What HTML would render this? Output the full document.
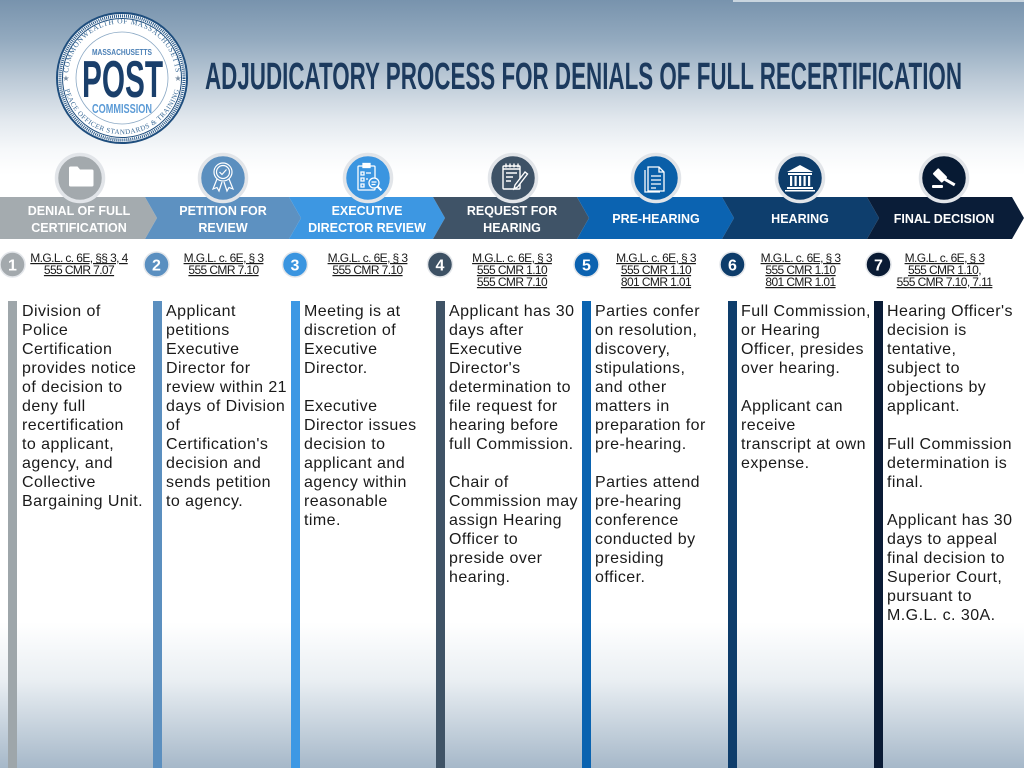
<!DOCTYPE html>
<html><head><meta charset="utf-8">
<style>
html,body{margin:0;padding:0;width:1024px;height:768px;overflow:hidden;background:#fff}
svg{display:block}
.t{font-family:"Liberation Sans",Arial,sans-serif}
.body{font-size:16px;fill:#1a1a1a;letter-spacing:0.45px}
.lbl{font-size:12.5px;font-weight:bold;fill:#fff;text-anchor:middle}
.cit{font-size:12px;fill:#1a1a1a;text-anchor:middle;letter-spacing:-0.6px;text-decoration:underline}
.num{font-size:16px;font-weight:bold;fill:#fff;text-anchor:middle}
</style></head>
<body>
<svg width="1024" height="768" viewBox="0 0 1024 768" xmlns="http://www.w3.org/2000/svg" class="t">
<defs>
<linearGradient id="bg" x1="0" y1="0" x2="0" y2="768" gradientUnits="userSpaceOnUse">
<stop offset="0" stop-color="#7893ad"/>
<stop offset="0.052" stop-color="#93aabf"/>
<stop offset="0.104" stop-color="#bccad7"/>
<stop offset="0.156" stop-color="#e2e8ee"/>
<stop offset="0.195" stop-color="#f6f8fa"/>
<stop offset="0.228" stop-color="#ffffff"/>
<stop offset="0.81" stop-color="#ffffff"/>
<stop offset="0.885" stop-color="#eaeff3"/>
<stop offset="1" stop-color="#a6b8c9"/>
</linearGradient>
<path id="arcTop" d="M 70,92 A 54 54 0 1 1 174,92"/>
<path id="arcBot" d="M 64,86 A 59 59 0 0 0 180,86"/>
</defs>
<rect width="1024" height="768" fill="url(#bg)"/>
<rect x="733" y="0" width="291" height="2" fill="#c9d5df"/>

<!-- Logo -->
<circle cx="122" cy="78" r="65" fill="#fff" stroke="#1f4e7e" stroke-width="2"/>
<circle cx="122" cy="78" r="62" fill="none" stroke="#2a5a8a" stroke-width="3" stroke-dasharray="1 1"/>
<circle cx="122" cy="78" r="59.5" fill="none" stroke="#1f4e7e" stroke-width="1"/>
<circle cx="122" cy="78" r="46" fill="none" stroke="#8aa8c4" stroke-width="0.8"/>
<text font-family="Liberation Serif,serif" font-size="7.5" fill="#3a6a97" letter-spacing="0.6"><textPath href="#arcTop" startOffset="50%" text-anchor="middle">COMMONWEALTH OF MASSACHUSETTS</textPath></text>
<text font-family="Liberation Serif,serif" font-size="7" fill="#3a6a97" letter-spacing="0.5"><textPath href="#arcBot" startOffset="50%" text-anchor="middle">PEACE OFFICER STANDARDS &amp; TRAINING</textPath></text>
<text x="66" y="81" font-size="8" fill="#7a8ea3" text-anchor="middle">★</text>
<text x="178" y="81" font-size="8" fill="#7a8ea3" text-anchor="middle">★</text>
<text x="92" y="55" font-size="8" font-weight="bold" fill="#4a7fb5" textLength="60" lengthAdjust="spacingAndGlyphs">MASSACHUSETTS</text>
<text x="82" y="97" font-size="52" font-weight="bold" fill="#1a3f6b" textLength="81" lengthAdjust="spacingAndGlyphs">POST</text>
<text x="92" y="113" font-size="12.5" font-weight="bold" fill="#5c9bd6" textLength="60" lengthAdjust="spacingAndGlyphs">COMMISSION</text>

<!-- Title -->
<text x="205" y="89" font-size="38" font-weight="bold" fill="#1c3a5e" textLength="757" lengthAdjust="spacingAndGlyphs">ADJUDICATORY PROCESS FOR DENIALS OF FULL RECERTIFICATION</text>

<!-- Chevron band -->
<polygon points="0,197 145,197 157,218 145,239 0,239" fill="#a4abaf"/>
<polygon points="145,197 289,197 301,218 289,239 145,239 157,218" fill="#5d91c1"/>
<polygon points="289,197 433,197 445,218 433,239 289,239 301,218" fill="#3d97e2"/>
<polygon points="433,197 577,197 589,218 577,239 433,239 445,218" fill="#3f5367"/>
<polygon points="577,197 722,197 734,218 722,239 577,239 589,218" fill="#0b63b1"/>
<polygon points="722,197 867,197 879,218 867,239 722,239 734,218" fill="#0e3e6d"/>
<polygon points="867,197 1012,197 1024,218 1012,239 867,239 879,218" fill="#0a1d38"/>

<text class="lbl" x="79" y="215">DENIAL OF FULL</text>
<text class="lbl" x="79" y="232">CERTIFICATION</text>
<text class="lbl" x="223" y="215">PETITION FOR</text>
<text class="lbl" x="223" y="232">REVIEW</text>
<text class="lbl" x="367" y="215">EXECUTIVE</text>
<text class="lbl" x="367" y="232">DIRECTOR REVIEW</text>
<text class="lbl" x="512" y="215">REQUEST FOR</text>
<text class="lbl" x="512" y="232">HEARING</text>
<text class="lbl" x="656" y="223">PRE-HEARING</text>
<text class="lbl" x="800" y="223">HEARING</text>
<text class="lbl" x="944" y="223">FINAL DECISION</text>

<!-- Icon circles -->
<g stroke="#e2e5e9" stroke-width="3.5">
<circle cx="80" cy="178" r="23.5" fill="#a3a9ad"/>
<circle cx="223" cy="178" r="23.5" fill="#5b8fbf"/>
<circle cx="368" cy="178" r="23.5" fill="#3b95e0"/>
<circle cx="513" cy="178" r="23.5" fill="#3e5266"/>
<circle cx="656" cy="178" r="23.5" fill="#0a5fa8"/>
<circle cx="800" cy="178" r="23.5" fill="#0d3c6a"/>
<circle cx="944" cy="178" r="23.5" fill="#071a33"/>
</g>
<!-- folder -->
<path d="M69,168 q0,-1.5 1.5,-1.5 h7 l2.5,3 h12 q1.5,0 1.5,1.5 v14 q0,1.5 -1.5,1.5 h-21.5 q-1.5,0 -1.5,-1.5 z" fill="#fff"/>
<!-- award -->
<g fill="none" stroke="#fff" stroke-width="1.2">
<circle cx="223" cy="172" r="9"/>
<circle cx="223" cy="172" r="6.5"/>
<path d="M219.5,172 l2.5,2.5 l4.5,-5"/>
<path d="M217,179 l-4,10 l4,-1.5 l2,3.5 l3,-9"/>
<path d="M229,179 l4,10 l-4,-1.5 l-2,3.5 l-3,-9"/>
</g>
<!-- clipboard -->
<g fill="none" stroke="#fff" stroke-width="1.3">
<rect x="358" y="166" width="17" height="24" rx="1"/>
<rect x="363" y="163.5" width="7" height="4" fill="#fff"/>
<path d="M361,172 h3 v3 h-3z M361,178 h3 v3 h-3z M361,184 h3 v3 h-3z M366,173 h5 M366,179 h2"/>
<circle cx="374" cy="183" r="5" fill="#3b95e0"/>
<path d="M377.5,186.5 l4,4" stroke-width="2"/>
<path d="M371.5,182 h5 M371.5,184.5 h4"/>
</g>
<!-- notepad + pencil -->
<g fill="none" stroke="#fff" stroke-width="1.4">
<rect x="503" y="166" width="17" height="23" rx="1"/>
<path d="M506,163.5 v4 M510,163.5 v4 M514,163.5 v4 M518,163.5 v4 M503,169 h17"/>
<path d="M506,173 h11 M506,177 h7 M506,181 h5"/>
<path d="M525,172 l-10,13 l-1,4 l3.5,-2 l10,-13 z" fill="#3e5266"/>
</g>
<!-- document -->
<g fill="none" stroke="#fff" stroke-width="1.3">
<path d="M648,167 h11 l5,5 v19 h-16 z" fill="#0a5fa8"/>
<path d="M645,170 v22 h15" />
<path d="M659,167 v5 h5"/>
<path d="M651,176 h10 M651,180 h10 M651,184 h10 M651,188 h5"/>
</g>
<!-- building -->
<g fill="#fff">
<polygon points="800,165 813,172 787,172"/>
<rect x="788" y="173" width="24" height="2"/>
<rect x="790" y="176" width="2.2" height="10"/>
<rect x="794.5" y="176" width="2.2" height="10"/>
<rect x="799" y="176" width="2.2" height="10"/>
<rect x="803.5" y="176" width="2.2" height="10"/>
<rect x="808" y="176" width="2.2" height="10"/>
<rect x="787" y="187" width="26" height="2"/>
<rect x="785" y="190" width="30" height="1.5"/>
</g>
<!-- gavel -->
<g fill="#fff">
<rect x="936" y="169" width="8" height="13" rx="1" transform="rotate(-45 940 175.5)"/>
<rect x="942" y="176" width="15" height="3" transform="rotate(30 942 177)"/>
<rect x="932" y="185" width="11" height="3" rx="1"/>
</g>

<!-- Number circles -->
<g stroke="#e3e6ea" stroke-width="1.5">
<circle cx="12.5" cy="264.5" r="12.5" fill="#a3a9ad"/>
<circle cx="156.5" cy="264.5" r="12.5" fill="#5a8fc0"/>
<circle cx="295" cy="264.5" r="12.5" fill="#3a95e0"/>
<circle cx="440" cy="264.5" r="12.5" fill="#3d5164"/>
<circle cx="586.5" cy="264.5" r="12.5" fill="#0b62b0"/>
<circle cx="732.5" cy="264.5" r="12.5" fill="#0d3c6a"/>
<circle cx="878.5" cy="264.5" r="12.5" fill="#0a1b34"/>
</g>
<text class="num" x="12.5" y="270.5">1</text>
<text class="num" x="156.5" y="270.5">2</text>
<text class="num" x="295" y="270.5">3</text>
<text class="num" x="440" y="270.5">4</text>
<text class="num" x="586.5" y="270.5">5</text>
<text class="num" x="732.5" y="270.5">6</text>
<text class="num" x="878.5" y="270.5">7</text>

<!-- Citations -->
<text class="cit" x="79" y="262">M.G.L. c. 6E, §§ 3, 4</text>
<text class="cit" x="79" y="274">555 CMR 7.07</text>
<text class="cit" x="223.5" y="262">M.G.L. c. 6E, § 3</text>
<text class="cit" x="223.5" y="274">555 CMR 7.10</text>
<text class="cit" x="367.5" y="262">M.G.L. c. 6E, § 3</text>
<text class="cit" x="367.5" y="274">555 CMR 7.10</text>
<text class="cit" x="512" y="262">M.G.L. c. 6E, § 3</text>
<text class="cit" x="512" y="274">555 CMR 1.10</text>
<text class="cit" x="512" y="286">555 CMR 7.10</text>
<text class="cit" x="656" y="262">M.G.L. c. 6E, § 3</text>
<text class="cit" x="656" y="274">555 CMR 1.10</text>
<text class="cit" x="656" y="286">801 CMR 1.01</text>
<text class="cit" x="800.5" y="262">M.G.L. c. 6E, § 3</text>
<text class="cit" x="800.5" y="274">555 CMR 1.10</text>
<text class="cit" x="800.5" y="286">801 CMR 1.01</text>
<text class="cit" x="944.5" y="262">M.G.L. c. 6E, § 3</text>
<text class="cit" x="944.5" y="274">555 CMR 1.10,</text>
<text class="cit" x="944.5" y="286">555 CMR 7.10, 7.11</text>

<!-- Vertical bars -->
<rect x="8" y="301" width="9" height="467" fill="#9ea6aa"/>
<rect x="153" y="301" width="9" height="467" fill="#5b8fbf"/>
<rect x="291" y="301" width="9" height="467" fill="#3d98e4"/>
<rect x="436" y="301" width="9" height="467" fill="#3f5366"/>
<rect x="582" y="301" width="9" height="467" fill="#0a63b0"/>
<rect x="728" y="301" width="9" height="467" fill="#0e3d6b"/>
<rect x="874" y="301" width="9" height="467" fill="#0a1b35"/>

<!-- Body text -->
<text class="body">
<tspan x="22" y="316">Division of</tspan>
<tspan x="22" y="335">Police</tspan>
<tspan x="22" y="354">Certification</tspan>
<tspan x="22" y="373">provides notice</tspan>
<tspan x="22" y="392">of decision to</tspan>
<tspan x="22" y="411">deny full</tspan>
<tspan x="22" y="430">recertification</tspan>
<tspan x="22" y="449">to applicant,</tspan>
<tspan x="22" y="468">agency, and</tspan>
<tspan x="22" y="487">Collective</tspan>
<tspan x="22" y="506">Bargaining Unit.</tspan>
</text>
<text class="body">
<tspan x="166" y="316">Applicant</tspan>
<tspan x="166" y="335">petitions</tspan>
<tspan x="166" y="354">Executive</tspan>
<tspan x="166" y="373">Director for</tspan>
<tspan x="166" y="392">review within 21</tspan>
<tspan x="166" y="411">days of Division</tspan>
<tspan x="166" y="430">of</tspan>
<tspan x="166" y="449">Certification's</tspan>
<tspan x="166" y="468">decision and</tspan>
<tspan x="166" y="487">sends petition</tspan>
<tspan x="166" y="506">to agency.</tspan>
</text>
<text class="body">
<tspan x="304" y="316">Meeting is at</tspan>
<tspan x="304" y="335">discretion of</tspan>
<tspan x="304" y="354">Executive</tspan>
<tspan x="304" y="373">Director.</tspan>
<tspan x="304" y="411">Executive</tspan>
<tspan x="304" y="430">Director issues</tspan>
<tspan x="304" y="449">decision to</tspan>
<tspan x="304" y="468">applicant and</tspan>
<tspan x="304" y="487">agency within</tspan>
<tspan x="304" y="506">reasonable</tspan>
<tspan x="304" y="525">time.</tspan>
</text>
<text class="body">
<tspan x="449" y="316">Applicant has 30</tspan>
<tspan x="449" y="335">days after</tspan>
<tspan x="449" y="354">Executive</tspan>
<tspan x="449" y="373">Director's</tspan>
<tspan x="449" y="392">determination to</tspan>
<tspan x="449" y="411">file request for</tspan>
<tspan x="449" y="430">hearing before</tspan>
<tspan x="449" y="449">full Commission.</tspan>
<tspan x="449" y="487">Chair of</tspan>
<tspan x="449" y="506">Commission may</tspan>
<tspan x="449" y="525">assign Hearing</tspan>
<tspan x="449" y="544">Officer to</tspan>
<tspan x="449" y="563">preside over</tspan>
<tspan x="449" y="582">hearing.</tspan>
</text>
<text class="body">
<tspan x="595" y="316">Parties confer</tspan>
<tspan x="595" y="335">on resolution,</tspan>
<tspan x="595" y="354">discovery,</tspan>
<tspan x="595" y="373">stipulations,</tspan>
<tspan x="595" y="392">and other</tspan>
<tspan x="595" y="411">matters in</tspan>
<tspan x="595" y="430">preparation for</tspan>
<tspan x="595" y="449">pre-hearing.</tspan>
<tspan x="595" y="487">Parties attend</tspan>
<tspan x="595" y="506">pre-hearing</tspan>
<tspan x="595" y="525">conference</tspan>
<tspan x="595" y="544">conducted by</tspan>
<tspan x="595" y="563">presiding</tspan>
<tspan x="595" y="582">officer.</tspan>
</text>
<text class="body">
<tspan x="741" y="316">Full Commission,</tspan>
<tspan x="741" y="335">or Hearing</tspan>
<tspan x="741" y="354">Officer, presides</tspan>
<tspan x="741" y="373">over hearing.</tspan>
<tspan x="741" y="411">Applicant can</tspan>
<tspan x="741" y="430">receive</tspan>
<tspan x="741" y="449">transcript at own</tspan>
<tspan x="741" y="468">expense.</tspan>
</text>
<text class="body">
<tspan x="887" y="316">Hearing Officer's</tspan>
<tspan x="887" y="335">decision is</tspan>
<tspan x="887" y="354">tentative,</tspan>
<tspan x="887" y="373">subject to</tspan>
<tspan x="887" y="392">objections by</tspan>
<tspan x="887" y="411">applicant.</tspan>
<tspan x="887" y="449">Full Commission</tspan>
<tspan x="887" y="468">determination is</tspan>
<tspan x="887" y="487">final.</tspan>
<tspan x="887" y="525">Applicant has 30</tspan>
<tspan x="887" y="544">days to appeal</tspan>
<tspan x="887" y="563">final decision to</tspan>
<tspan x="887" y="582">Superior Court,</tspan>
<tspan x="887" y="601">pursuant to</tspan>
<tspan x="887" y="620">M.G.L. c. 30A.</tspan>
</text>
</svg>
</body></html>
